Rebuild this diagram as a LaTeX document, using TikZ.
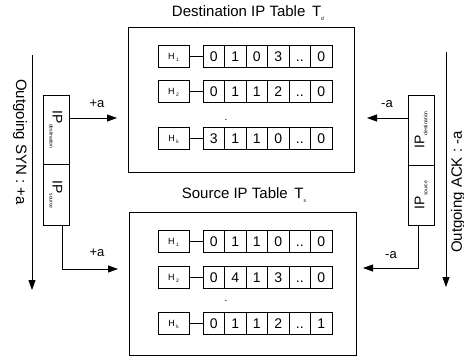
\documentclass[tikz,border=0pt]{standalone}
\usepackage{fontspec}
\setmainfont{Liberation Sans}
\usetikzlibrary{arrows.meta}
\newcommand\twodots{..}
\newcommand\smallsub[2][-2.5pt]{\raisebox{#1}{\fontsize{5}{5}\selectfont #2}}
\newcommand\tabrow[4]{%
  \node[hbox] (#1h) at (173.5,#2) {H\,\smallsub{#3}};
  \foreach \v [count=\i] in {#4} {\node[cell] (#1c\i) at ({192.25+21.5*\i},#2) {\v};}
  \draw (#1h) -- (#1c1);
}
\begin{document}
\begin{tikzpicture}[x=1pt,y=-1pt,line width=0.8pt,
  hbox/.style={draw,minimum width=31pt,minimum height=22pt,inner sep=0pt,text height=6.5pt,text depth=0pt,font=\fontsize{9}{9}\selectfont},
  cell/.style={draw,minimum width=21.5pt,minimum height=22pt,inner sep=0pt,text height=10pt,text depth=0pt,font=\fontsize{14}{14}\selectfont},
  tframe/.style={draw,inner sep=0pt},
  ipbox/.style={draw,minimum width=26pt,inner sep=0pt},
  iptext/.style={inner sep=0pt,font=\fontsize{14}{14}\selectfont},
  arr/.style={-{Triangle[length=10pt,width=7pt]}},
  lbl/.style={font=\fontsize{13}{13}\selectfont},
  big/.style={font=\fontsize{15}{15}\selectfont}]
\useasboundingbox (0,0) rectangle (464,360);
% tables
\node[tframe,minimum width=226pt,minimum height=145pt] (dtab) at (241,99.5) {};
\node[tframe,minimum width=227pt,minimum height=143pt] (stab) at (242.5,283.5) {};
\node[big] (dtitle) at (248,13) {Destination IP Table\, T\smallsub[-3.5pt]{d}};
\node[big] (stitle) at (244,195) {Source IP Table\, T\smallsub[-3.5pt]{s}};
\tabrow{da}{56}{1}{0,1,0,3,\twodots,0}
\tabrow{db}{91}{2}{0,1,1,2,\twodots,0}
\tabrow{dk}{138}{k}{3,1,1,0,\twodots,0}
\node[font=\fontsize{10}{10}\selectfont,inner sep=0pt] (ddot) at (226,120) {.};
\tabrow{sa}{241}{1}{0,1,1,0,\twodots,0}
\tabrow{sb}{277}{2}{0,4,1,3,\twodots,0}
\tabrow{sk}{323}{k}{0,1,1,2,\twodots,1}
\node[font=\fontsize{10}{10}\selectfont,inner sep=0pt] (sdot) at (226,301) {.};
% left IP box
\node[ipbox,minimum height=69pt] (ldst) at (56,129.5) {};
\node[ipbox,minimum height=61pt] (lsrc) at (56,194.5) {};
\node[iptext,rotate=-90] (ldstt) at (ldst) {IP\smallsub[-3pt]{destination}};
\node[iptext,rotate=-90] (lsrct) at (lsrc) {IP\smallsub[-3pt]{source}};
% right IP box
\node[ipbox,minimum height=70pt] (rdst) at (421,130) {};
\node[ipbox,minimum height=60pt] (rsrc) at (421,195) {};
\node[iptext,rotate=90] (rdstt) at (rdst) {IP\smallsub[-3pt]{destination}};
\node[iptext,rotate=90] (rsrct) at (rsrc) {IP\smallsub[-3pt]{source}};
% arrows left
\coordinate (la) at (117,118);
\draw[arr] (ldst.east |- la) -- (la);
\node[lbl] (lpa) at (97,104) {+a};
\coordinate (lb) at (118,269);
\draw[arr] ([xshift=6pt]lsrc.south) |- (lb);
\node[lbl] (lpb) at (97,253) {+a};
% arrows right
\coordinate (ra) at (367,118);
\draw[arr] (rdst.west |- ra) -- (ra);
\node[lbl] (rma) at (387,104) {-a};
\coordinate (rb) at (363,268);
\draw[arr] ([xshift=-3pt]rsrc.south) |- (rb);
\node[lbl] (rmb) at (391,255) {-a};
% long lines
\coordinate (lt) at (32,55);
\coordinate (lbt) at (32,290);
\draw[arr] (lt) -- (lbt);
\coordinate (rt) at (446,52);
\coordinate (rbt) at (446,287);
\draw[arr] (rt) -- (rbt);
\node[big,rotate=-90] (syn) at (20,142) {Outgoing SYN : +a};
\node[big,rotate=90] (ack) at (458,192) {Outgoing ACK : -a};
\end{tikzpicture}
\end{document}
